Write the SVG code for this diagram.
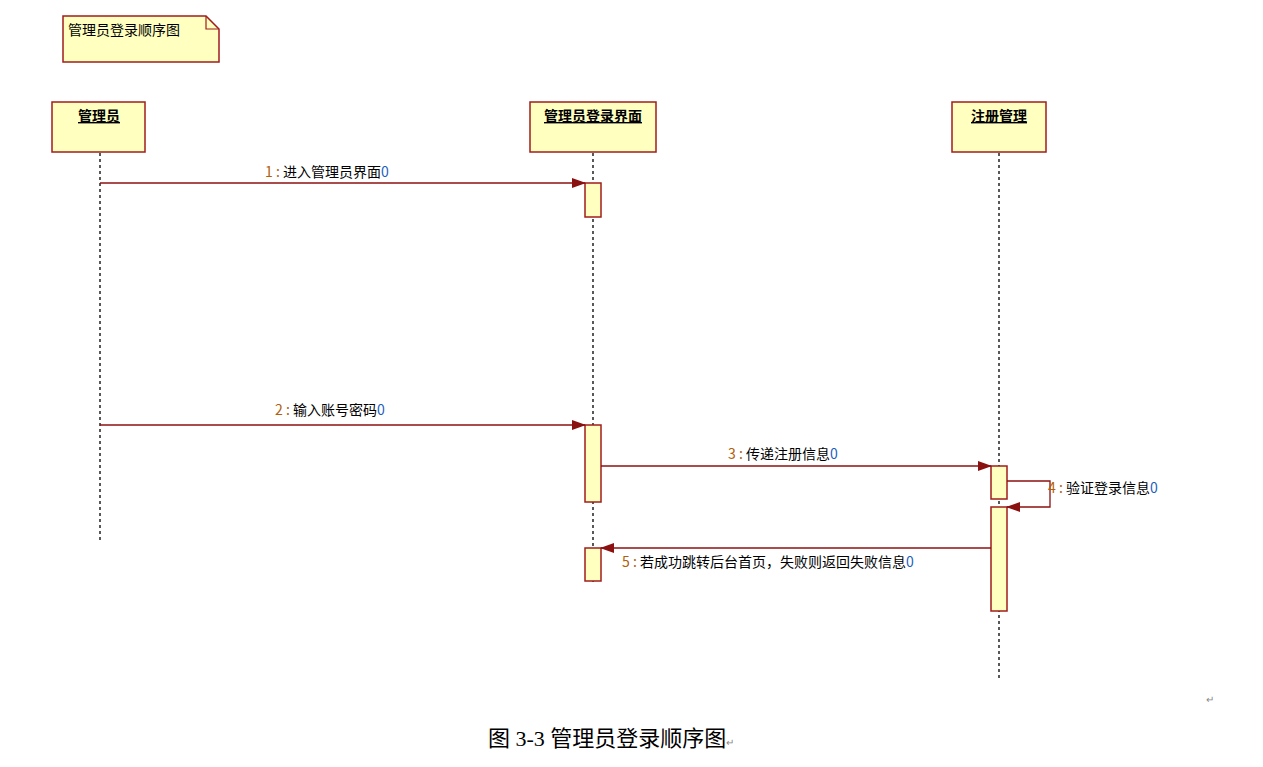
<svg xmlns="http://www.w3.org/2000/svg" width="1263" height="767" viewBox="0 0 1263 767">
<style>
.box{fill:#ffffc0;stroke:#a01c1c;stroke-width:1.5}
.life{stroke:#000;stroke-width:1.3;stroke-dasharray:3,3}
.msg{stroke:#8b1010;stroke-width:1.3;fill:none}
.t{font-family:"Noto Sans CJK SC","Liberation Sans",sans-serif;font-size:14px;fill:#000}
.n{fill:#b0600a}
.z{fill:#1e5fc0}
</style>
<defs>
<marker id="ah" markerWidth="14" markerHeight="10" refX="13" refY="5" orient="auto" markerUnits="userSpaceOnUse">
<path d="M0,0 L14,5 L0,10 Z" fill="#8b1010"/>
</marker>
</defs>
<rect width="1263" height="767" fill="#fff"/>
<g id="note">
<path class="box" d="M63,16 H206 L219,29 V62 H63 Z"/>
<path d="M206,16 V29 H219" fill="none" stroke="#a01c1c" stroke-width="1.2"/>
<text class="t" x="68" y="35">管理员登录顺序图</text>
</g>
<g id="n1">
<rect class="box" x="52" y="102" width="93" height="50"/>
<text class="t" x="99" y="121" text-anchor="middle" text-decoration="underline" font-weight="bold">管理员</text>
<line class="life" x1="100" y1="153" x2="100" y2="543"/>
</g>
<g id="n2">
<rect class="box" x="530" y="102" width="126" height="50"/>
<text class="t" x="593" y="121" text-anchor="middle" text-decoration="underline" font-weight="bold">管理员登录界面</text>
<line class="life" x1="593" y1="153" x2="593" y2="585"/>
<rect class="box" x="585" y="183" width="16" height="34"/>
<rect class="box" x="585" y="425" width="16" height="77"/>
<rect class="box" x="585" y="548" width="16" height="33"/>
</g>
<g id="n3">
<rect class="box" x="952" y="102" width="94" height="50"/>
<text class="t" x="999" y="121" text-anchor="middle" text-decoration="underline" font-weight="bold">注册管理</text>
<line class="life" x1="999" y1="153" x2="999" y2="678"/>
<rect class="box" x="991" y="466" width="16" height="33"/>
<rect class="box" x="991" y="507" width="16" height="104"/>
</g>
<g id="connectors">
<line class="msg" x1="100" y1="183" x2="585" y2="183" marker-end="url(#ah)"/>
<text class="t" x="265" y="177"><tspan class="n">1 : </tspan>进入管理员界面<tspan class="z">0</tspan></text>
<line class="msg" x1="100" y1="425" x2="585" y2="425" marker-end="url(#ah)"/>
<text class="t" x="275" y="415"><tspan class="n">2 : </tspan>输入账号密码<tspan class="z">0</tspan></text>
<line class="msg" x1="601" y1="466" x2="991" y2="466" marker-end="url(#ah)"/>
<text class="t" x="728" y="459"><tspan class="n">3 : </tspan>传递注册信息<tspan class="z">0</tspan></text>
<path class="msg" d="M1007,481 H1050 V507 H1007" marker-end="url(#ah)"/>
<text class="t" x="1048" y="493"><tspan class="n">4 : </tspan>验证登录信息<tspan class="z">0</tspan></text>
<line class="msg" x1="991" y1="548" x2="601" y2="548" marker-end="url(#ah)"/>
<text class="t" x="622" y="567"><tspan class="n">5 : </tspan>若成功跳转后台首页，失败则返回失败信息<tspan class="z">0</tspan></text>
</g>
<text x="1206" y="703" font-family="Liberation Sans,sans-serif" font-size="10" fill="#888">↵</text>
<text x="488" y="746" font-family="Liberation Serif,'Noto Sans CJK SC',serif" font-size="22" fill="#000">图 3-3 管理员登录顺序图<tspan font-size="10" fill="#888">↵</tspan></text>
</svg>
